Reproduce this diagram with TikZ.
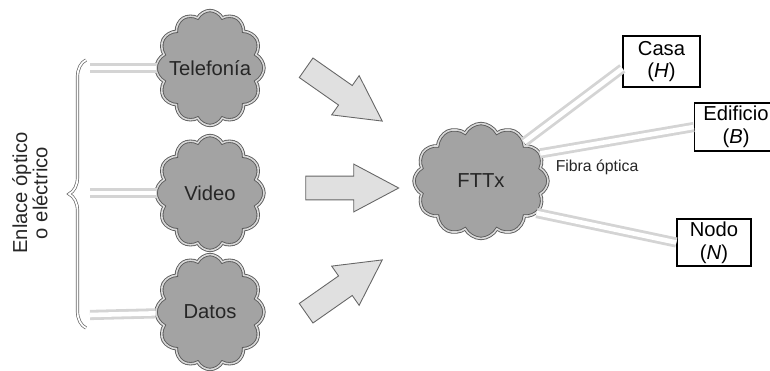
\documentclass[tikz,border=0pt]{standalone}
\usepackage{fontspec}
\setmainfont{Liberation Sans}
\usetikzlibrary{shapes.symbols, shapes.arrows, decorations.pathreplacing}

\begin{document}
\begin{tikzpicture}[x=0.02cm, y=-0.02cm,
	main/.style = {cloud, cloud puffs=12, cloud puff arc=125, cloud ignores aspect, draw=black!65, double=black!15, line width=0.5pt, double distance=0.9pt, fill=black!36, inner sep=0pt, text=black!85, font=\fontsize{11.5}{13}\selectfont},
	caja/.style = {draw, line width=0.8pt, align=center, inner sep=1pt, font=\fontsize{11.5}{13}\selectfont},
	flecha/.style = {single arrow, draw=black!60, line width=0.5pt, fill=black!12, single arrow head extend=0.24cm, single arrow tip angle=56, single arrow head indent=0pt, minimum height=1.86cm, inner xsep=0pt, inner ysep=0.23cm},
	fibra/.style = {draw=black!17, line width=1.6pt, double=white, double distance=2.6pt},
	llave/.style = {draw=black!60, line width=0.4pt, double=white, double distance=1pt, decorate, decoration={brace, amplitude=0.34cm}}]

		\useasboundingbox (0,0) rectangle (770,371);

		\node[main, minimum width=2.16cm, minimum height=2.3cm] (1) at (210,68) {\makebox[0pt]{Telefonía}};
		\node[main, minimum width=2.16cm, minimum height=2.3cm] (2) at (210,193) {\makebox[0pt]{Video}};
		\node[main, minimum width=2.16cm, minimum height=2.3cm] (3) at (210,312) {\makebox[0pt]{Datos}};
		\node[main, minimum width=2.68cm, minimum height=2.3cm] (4) at (481,181) {\makebox[0pt]{FTTx}};

		\node[caja, minimum width=1.54cm, minimum height=1.02cm] (5) at (661.5,61.5) {Casa\\(\textit{H})};
		\node[caja, minimum width=1.66cm, minimum height=0.96cm] (6) at (736,127) {Edificio\\(\textit{B})};
		\node[caja, minimum width=1.48cm, minimum height=0.94cm] (7) at (714,242.5) {Nodo\\(\textit{N})};

		\node[flecha, rotate=-35] (f1) at (335,88) {};
		\node[flecha] (f2) at (341,188) {};
		\node[flecha, rotate=35] (f3) at (335,293) {};

		\node[rotate=90, align=center, text=black!85, font=\fontsize{11.5}{11.5}\selectfont] (0) at (30,193) {Enlace óptico\\o eléctrico};
		\draw[llave] (86,328) -- (86,60);

		\coordinate (c1) at (90,68);
		\coordinate (c2) at (90,193);
		\coordinate (c3) at (90,315);
		\draw[fibra] (c1) -- (1);
		\draw[fibra] (c2) -- (2);
		\draw[fibra] (c3) -- (3);

		\draw[fibra] (4.42) -- (5.190);
		\draw[fibra] (4.25) -- node[pos=0.37, below=5pt, text=black!85, font=\fontsize{9}{10}\selectfont] {Fibra óptica} (6.west);
		\draw[fibra] (4.-30) -- (7.west);
	\end{tikzpicture}
\end{document}
